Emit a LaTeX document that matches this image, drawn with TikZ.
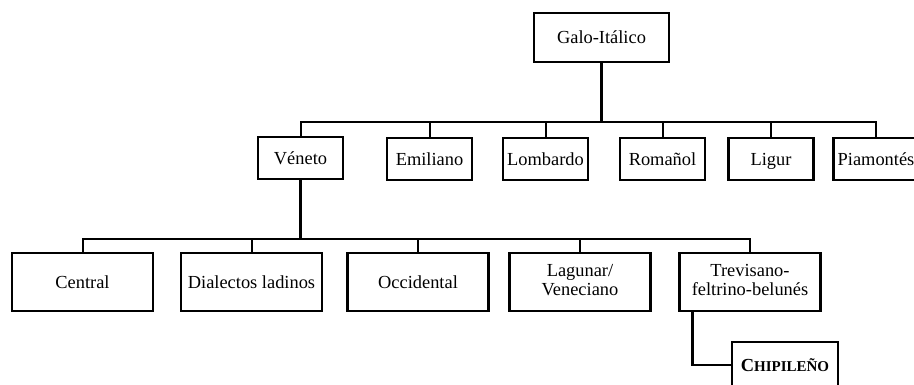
\documentclass[tikz,border=0pt]{standalone}
\usepackage{fontspec}
\setmainfont{Liberation Serif}
\usepackage{tikz}
\usetikzlibrary{positioning}

\begin{document}
\begin{tikzpicture}[
        x=1pt, y=-1pt,
        box/.style={rectangle, draw, line width=2.2pt, align=center, inner sep=0pt,
                    minimum width=85pt, minimum height=42pt, font=\fontsize{18.4}{19}\selectfont,
                    execute at begin node=\rule[-4.8pt]{0pt}{21.8pt},
                    execute at end node=\rule[-4.8pt]{0pt}{21.8pt}},
        wbox/.style={box, minimum width=141pt, minimum height=58pt},
        trunk/.style={line width=3pt},
        branch/.style={line width=2pt}
    ]
    \clip (0,0) rectangle (914,384);
    % root and first level
    \node [box, minimum width=135pt, minimum height=49pt] (galo) at (601.5,37.5) {Galo-Itálico};
    \node [box] (veneto) at (300.5,158) {Véneto};
    \node [box] (emiliano) at (429.5,159) {Emiliano};
    \node [box] (lombardo) at (545.5,159) {Lombardo};
    \node [box] (romanol) at (662.5,159) {Romañol};
    \node [box] (ligur) at (771,159) {Ligur};
    \node [box] (piamontes) at (876,159) {Piamontés};
    % second level
    \node [wbox] (central) at (82.5,282) {Central};
    \node [wbox] (ladinos) at (251.5,282) {Dialectos ladinos};
    \node [wbox] (occidental) at (418,282) {Occidental};
    \node [wbox] (lagunar) at (580,282) {Lagunar/\\Veneciano};
    \node [wbox] (trevisano) at (750,282) {Trevisano-\\feltrino-belunés};
    \node [box, minimum width=106pt, minimum height=46pt] (chipileno) at (785,365)
        {\bfseries C\fontsize{15}{15}\selectfont HIPILEÑO};
    % connectors
    \coordinate (bus1) at (601.5,122);
    \coordinate (bus2) at (300.5,239);
    \draw[trunk] (galo) -- (bus1);
    \foreach \n in {veneto, emiliano, lombardo, romanol, ligur, piamontes}
        \draw[branch] (bus1) -| (\n);
    \draw[trunk] (veneto) -- (bus2);
    \foreach \n in {central, ladinos, occidental, lagunar, trevisano}
        \draw[branch] (bus2) -| (\n);
    \draw[line width=2.2pt] ([xshift=14pt]trevisano.south west) |- (chipileno.west);
\end{tikzpicture}
\end{document}
